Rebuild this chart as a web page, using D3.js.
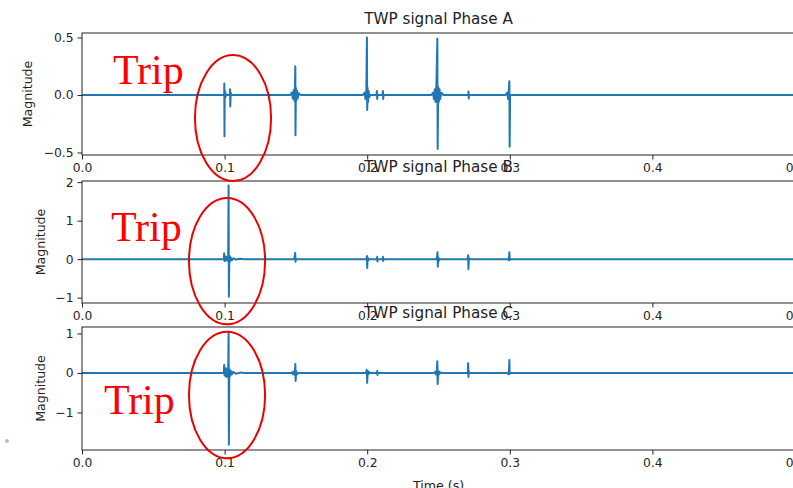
<!DOCTYPE html>
<html>
<head>
<meta charset="utf-8">
<script src="https://cdn.jsdelivr.net/npm/d3@7"></script>
<style>
    body { margin: 0; background: #fff; }
    svg { display: block; font-family: "DejaVu Sans", sans-serif; }
</style>
</head>
<body>
<div class="chart"></div>
<script>
// x ticks (time in seconds)
const timeTicks = [0.0, 0.1, 0.2, 0.3, 0.4, 0.5];

// signal points [time, magnitude]
const phaseA = [
    [0, 0],
    [0.0997, 0], [0.0998, 0.10], [0.0999, -0.36], [0.1001, 0.04], [0.1003, -0.03], [0.1006, 0.02], [0.1009, -0.01], [0.1013, 0],
    [0.1036, 0], [0.1038, 0.05], [0.104, -0.10], [0.1043, 0.02], [0.1047, 0],
    [0.146, 0], [0.1472, 0.02], [0.1478, -0.03], [0.1484, 0.04], [0.1489, -0.05], [0.1493, 0.06], [0.1496, 0.25], [0.1497, -0.35], [0.15, 0.06], [0.1503, -0.05], [0.1507, 0.04], [0.1512, -0.03], [0.152, 0.015], [0.1535, 0],
    [0.197, 0], [0.1982, 0.02], [0.1988, -0.035], [0.1994, 0.05], [0.1998, 0.50], [0.2, -0.13], [0.2003, 0.06], [0.2006, -0.06], [0.201, 0.035], [0.2015, -0.02], [0.202, 0],
    [0.2065, 0], [0.2068, 0.035], [0.207, -0.035], [0.2073, 0],
    [0.2107, 0], [0.211, 0.035], [0.2112, -0.035], [0.2115, 0],
    [0.245, 0], [0.2462, 0.02], [0.2468, -0.035], [0.2474, 0.05], [0.2479, -0.06], [0.2485, 0.07], [0.2492, 0.49], [0.2494, -0.47], [0.2498, 0.07], [0.2502, -0.06], [0.2507, 0.05], [0.2512, -0.035], [0.252, 0.02], [0.2535, 0],
    [0.2708, 0], [0.271, 0.03], [0.2712, -0.03], [0.2714, 0],
    [0.297, 0], [0.2982, 0.02], [0.2988, -0.035], [0.2993, 0.04], [0.2997, 0.12], [0.2999, -0.45], [0.3002, 0],
    [0.5, 0]
];

const phaseB = [
    [0, 0],
    [0.0995, 0], [0.0997, 0.15], [0.0999, -0.05], [0.1002, 0.08], [0.1005, -0.04], [0.1015, 0.06], [0.102, -0.04], [0.1025, 0.05], [0.1028, 1.91], [0.103, -0.98], [0.1033, 0.09], [0.1037, -0.07], [0.1042, 0.05], [0.105, -0.03], [0.106, 0.02], [0.108, -0.01], [0.111, 0.01], [0.113, 0],
    [0.1485, 0], [0.149, 0.03], [0.1495, 0.16], [0.1497, -0.07], [0.15, 0.02], [0.1505, 0],
    [0.1995, 0], [0.1998, 0.08], [0.2, -0.23], [0.2003, 0.04], [0.2008, -0.03], [0.2012, 0],
    [0.2068, 0], [0.207, 0.06], [0.2072, -0.06], [0.2075, 0],
    [0.2108, 0], [0.211, 0.06], [0.2112, -0.05], [0.2115, 0],
    [0.2485, 0], [0.249, 0.06], [0.2493, 0.18], [0.2495, -0.20], [0.2498, 0.05], [0.2503, -0.04], [0.2507, 0],
    [0.2705, 0], [0.2708, 0.10], [0.271, -0.26], [0.2713, 0.03], [0.2718, 0],
    [0.2985, 0], [0.299, -0.02], [0.2994, 0.04], [0.2997, 0.18], [0.2999, -0.02], [0.3002, 0],
    [0.5, 0]
];

const phaseC = [
    [0, 0],
    [0.0995, 0], [0.0997, 0.2], [0.0999, -0.05], [0.1002, 0.1], [0.1006, -0.08], [0.101, 0.12], [0.1015, -0.1], [0.102, 0.08], [0.1025, -0.06], [0.1028, 1.01], [0.103, -1.82], [0.1033, 0.1], [0.1038, -0.08], [0.1043, 0.06], [0.105, -0.04], [0.106, 0.03], [0.108, -0.02], [0.111, 0.01], [0.114, 0],
    [0.1465, 0], [0.1475, 0.02], [0.148, -0.03], [0.1487, 0.04], [0.1492, -0.05], [0.1496, 0.23], [0.1498, -0.20], [0.1502, 0.05], [0.1507, -0.03], [0.1515, 0],
    [0.199, 0], [0.1994, 0.04], [0.1997, 0.08], [0.2, -0.25], [0.2003, 0.05], [0.2007, -0.04], [0.2012, 0.03], [0.2018, 0],
    [0.2068, 0], [0.207, 0.05], [0.2072, -0.05], [0.2075, 0],
    [0.247, 0], [0.2478, 0.03], [0.2483, -0.04], [0.2488, 0.05], [0.2492, 0.30], [0.2494, -0.28], [0.2498, 0.05], [0.2503, -0.04], [0.2508, 0.03], [0.2515, 0],
    [0.2705, 0], [0.2708, 0.25], [0.271, -0.10], [0.2713, 0.04], [0.2717, 0],
    [0.2985, 0], [0.299, -0.03], [0.2994, 0.04], [0.2997, 0.33], [0.2999, -0.02], [0.3002, 0],
    [0.5, 0]
];

// titles, y limits and y ticks per panel
const titles = ["TWP signal Phase A", "TWP signal Phase B", "TWP signal Phase C"];
const yDomains = [[-0.522, 0.539], [-1.14, 2.03], [-1.95, 1.165]];
const yTicks = [[-0.5, 0.0, 0.5], [-1, 0, 1, 2], [-1, 0, 1]];
const yFormats = [".1f", "d", "d"];

// "Trip" annotations: ellipse centre (time, magnitude), half sizes, text anchor
const tripCenters = [[0.1059, -0.2], [0.1017, -0.05], [0.1017, -0.557]];
const tripRadii = [[0.0267, 0.548], [0.0267, 1.64], [0.0267, 1.6]];
const tripText = [[0.0217, 0.096], [0.0203, 0.47], [0.0154, -1.04]];

const width = 793, height = 488;
const left = 82, right = 795;
// panel layout: top/bottom in px, y label x
const panels = [
    { top: 33, bottom: 155, labelX: 28 },
    { top: 181, bottom: 303, labelX: 41 },
    { top: 327, bottom: 450, labelX: 41 }
];
const series = [phaseA, phaseB, phaseC];

const svg = d3.select(".chart").append("svg")
    .attr("width", width)
    .attr("height", height);

const x = d3.scaleLinear().domain([0, 0.5]).range([left, right]);

const ys = [];

panels.forEach((p, i) => {
    const y = d3.scaleLinear().domain(yDomains[i]).range([p.bottom, p.top]);
    ys.push(y);

    const g = svg.append("g");

    // clip the signal to the axes box
    g.append("clipPath").attr("id", "clip" + i)
        .append("rect")
        .attr("x", left).attr("y", p.top)
        .attr("width", right - left).attr("height", p.bottom - p.top);

    g.append("rect")
        .attr("x", left).attr("y", p.top)
        .attr("width", right - left).attr("height", p.bottom - p.top)
        .attr("fill", "#fff");

    const line = d3.line().x(d => x(d[0])).y(d => y(d[1]));
    g.append("path")
        .datum(series[i])
        .attr("clip-path", `url(#clip${i})`)
        .attr("fill", "none")
        .attr("stroke", "#1f77b4")
        .attr("stroke-width", 2)
        .attr("stroke-linejoin", "round")
        .attr("d", line);

    // spines
    g.append("rect")
        .attr("x", left).attr("y", p.top)
        .attr("width", right - left).attr("height", p.bottom - p.top)
        .attr("fill", "none")
        .attr("stroke", "#222")
        .attr("stroke-width", 1);

    // x axis
    const xAxis = g.append("g")
        .attr("transform", `translate(0,${p.bottom})`)
        .call(d3.axisBottom(x).tickValues(timeTicks).tickFormat(d3.format(".1f")).tickSize(4.5).tickPadding(4));
    xAxis.select(".domain").remove();

    // y axis
    const yAxis = g.append("g")
        .attr("transform", `translate(${left},0)`)
        .call(d3.axisLeft(y).tickValues(yTicks[i]).tickFormat(d3.format(yFormats[i])).tickSize(4.5).tickPadding(4));
    yAxis.select(".domain").remove();

    g.selectAll(".tick line").attr("stroke", "#222");
    g.selectAll(".tick text")
        .attr("fill", "#222")
        .style("font-size", "12.3px")
        .style("font-family", "DejaVu Sans");

    // title
    g.append("text")
        .attr("x", (left + right) / 2)
        .attr("y", p.top - 9)
        .attr("text-anchor", "middle")
        .attr("fill", "#222")
        .style("font-size", "15.2px")
        .text(titles[i]);

    // y label
    g.append("text")
        .attr("transform", `translate(${p.labelX},${(p.top + p.bottom) / 2}) rotate(-90)`)
        .attr("text-anchor", "middle")
        .attr("dy", "0.35em")
        .attr("fill", "#222")
        .style("font-size", "12.6px")
        .text("Magnitude");
});

// x label of the last panel (partly cut by the picture edge)
svg.append("text")
    .attr("x", (left + right) / 2)
    .attr("y", 490)
    .attr("text-anchor", "middle")
    .attr("fill", "#222")
    .style("font-size", "12.6px")
    .text("Time (s)");

// stray grey dot at the left margin
svg.append("circle")
    .attr("cx", 7).attr("cy", 441).attr("r", 2)
    .attr("fill", "#bbb");

// Trip annotations on top
panels.forEach((p, i) => {
    const y = ys[i];
    svg.append("ellipse")
        .attr("cx", x(tripCenters[i][0]))
        .attr("cy", y(tripCenters[i][1]))
        .attr("rx", x(tripRadii[i][0]) - x(0))
        .attr("ry", y(0) - y(tripRadii[i][1]))
        .attr("fill", "none")
        .attr("stroke", "#e00")
        .attr("stroke-width", 2);

    svg.append("text")
        .attr("x", x(tripText[i][0]))
        .attr("y", y(tripText[i][1]))
        .attr("fill", "#f00")
        .style("font-family", "'Liberation Serif', 'DejaVu Serif', serif")
        .style("font-size", "42px")
        .text("Trip");
});
</script>
</body>
</html>
